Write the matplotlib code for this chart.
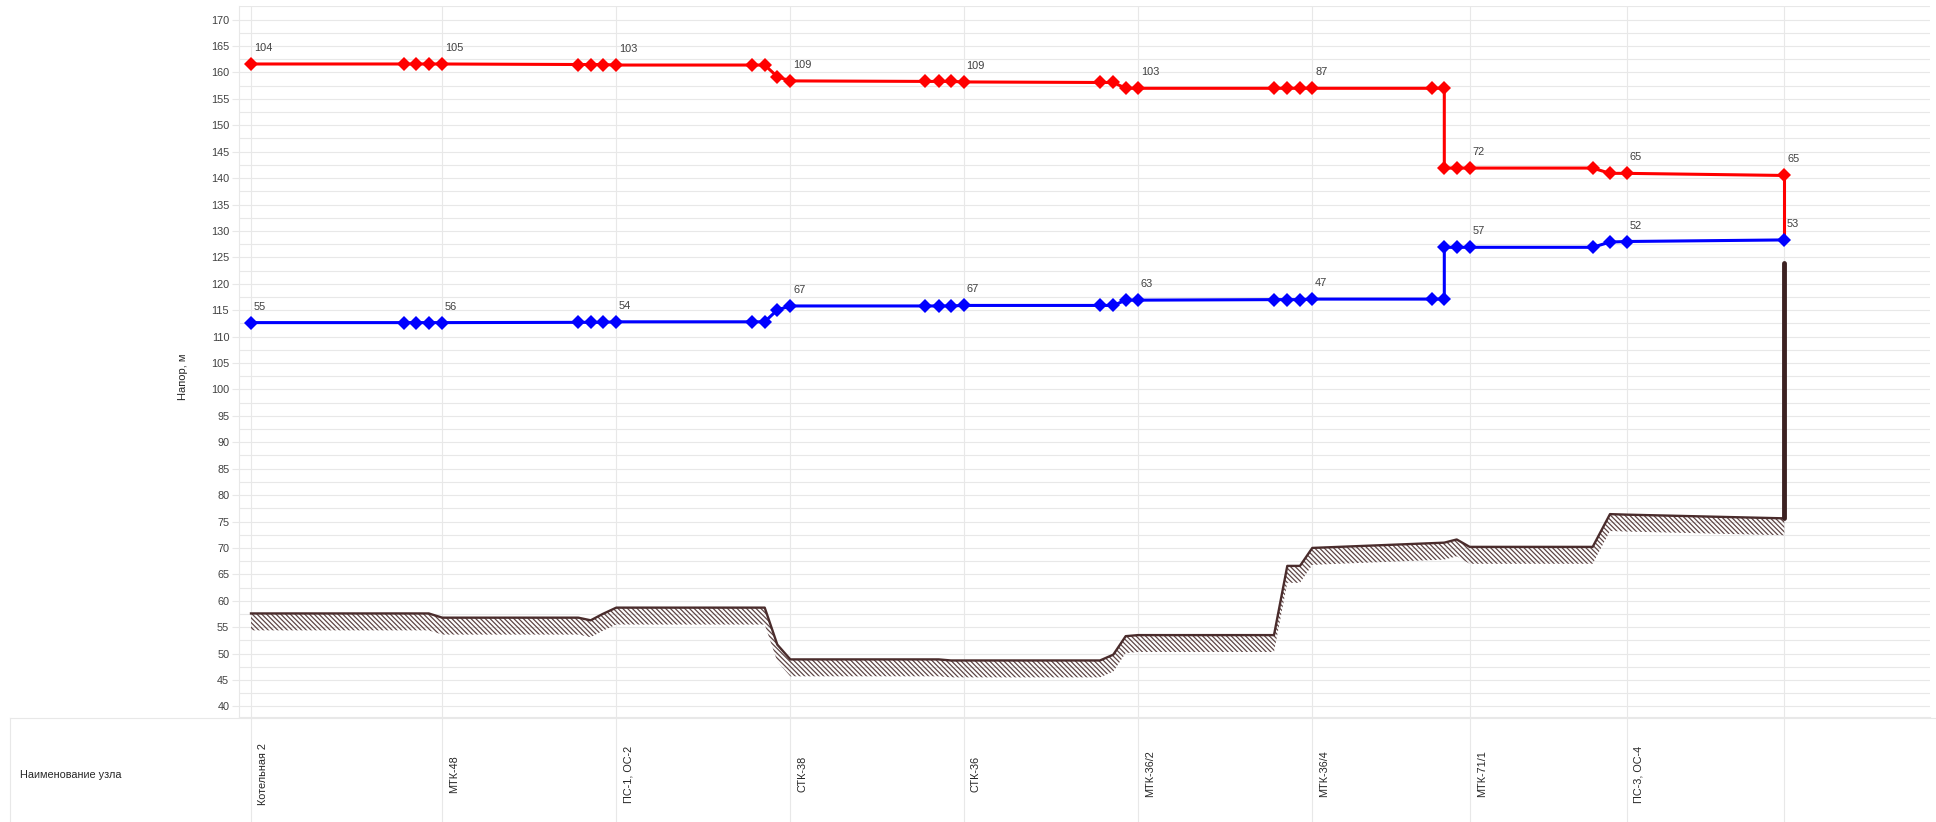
import numpy as np
import matplotlib
matplotlib.use("Agg")
import matplotlib.pyplot as plt
from matplotlib.ticker import MultipleLocator

plt.rcParams['font.family'] = ['Liberation Sans', 'DejaVu Sans']
plt.rcParams['hatch.linewidth'] = 0.9

# --- data (distance along the route, nodes in order) ---
dist = [0,
        153, 165.3, 177.7, 191.3,
        327.3, 339.7, 351.7, 365.3,
        501.3, 513.7, 526.3, 539.3,
        674, 687.7, 700, 712.7,
        849, 862.3, 874.7, 887,
        1023, 1036.3, 1049, 1061.3,
        1180.7, 1193.3, 1193.3, 1205.7, 1218.7,
        1341.7, 1359, 1375.7,
        1533.3]

supply_head = [161.6,
               161.6, 161.6, 161.6, 161.6,
               161.5, 161.5, 161.5, 161.4,
               161.4, 161.4, 159.2, 158.4,
               158.3, 158.3, 158.3, 158.2,
               158.1, 158.1, 157.0, 157.0,
               157.0, 157.0, 157.0, 157.0,
               157.0, 157.0, 141.9, 141.9, 141.9,
               141.9, 140.9, 140.9,
               140.5]

return_head = [112.65,
               112.65, 112.65, 112.65, 112.65,
               112.7, 112.7, 112.7, 112.8,
               112.8, 112.8, 115.05, 115.8,
               115.8, 115.8, 115.8, 115.9,
               115.9, 115.9, 116.9, 116.9,
               117.0, 117.0, 117.0, 117.1,
               117.1, 117.1, 126.9, 126.9, 126.9,
               126.9, 127.9, 128.0,
               128.3]

ground = [57.6,
          57.6, 57.6, 57.6, 56.8,
          56.8, 56.3, 57.5, 58.7,
          58.7, 58.7, 51.7, 48.9,
          48.9, 48.9, 48.7, 48.7,
          48.7, 49.8, 53.3, 53.5,
          53.5, 66.6, 66.6, 70.0,
          70.9, 71.0, 71.0, 71.6, 70.2,
          70.2, 76.4, 76.3,
          75.6]
riser_top = 124.0

# nodes that carry names / value labels
label_nodes = [0, 4, 8, 12, 16, 20, 24, 29, 32, 33]
node_names = ['Котельная 2', 'МТК-48', 'ПС-1, ОС-2', 'СТК-38', 'СТК-36',
              'МТК-36/2', 'МТК-36/4', 'МТК-71/1', 'ПС-3, ОС-4', '']
supply_labels = [104, 105, 103, 109, 109, 103, 87, 72, 65, 65]
return_labels = [55, 56, 54, 67, 67, 63, 47, 57, 52, 53]

W, H = 1936, 822
fig = plt.figure(figsize=(W / 100, H / 100), dpi=100)

ax_top, ax_bot, ax_left, ax_right = 6.4, 717.0, 239, 1930
ax = fig.add_axes([ax_left / W, 1 - ax_bot / H, (ax_right - ax_left) / W, (ax_bot - ax_top) / H])

x = np.array(dist)
gnd = np.array(ground)
grid_c = '#e8e8e8'
text_c = '#404040'

# ground profile with hatched band
ax.fill_between(x, gnd - 3.2, gnd, facecolor='none', edgecolor='#5e4646',
                hatch='\\\\\\\\\\\\\\', linewidth=0, zorder=2)
ax.plot(x, gnd, color='#4a2c2c', lw=1.7, zorder=3)
ax.plot([x[-1], x[-1]], [gnd[-1], riser_top], color='#3d2222', lw=3.5,
        solid_capstyle='round', zorder=3)

# piezometric lines
ax.plot([x[-1], x[-1]], [supply_head[-1], return_head[-1]], color='red', lw=2.2, zorder=4)
ax.plot(x, supply_head, color='red', lw=2.2, marker='D', ms=7.3, mew=0, zorder=5)
ax.plot(x, return_head, color='blue', lw=2.2, marker='D', ms=7.3, mew=0, zorder=5)

for i, n in enumerate(label_nodes):
    ax.annotate(str(supply_labels[i]), (x[n], supply_head[n]), xytext=(2, 11.5),
                textcoords='offset points', ha='left', va='center', fontsize=7.9, color=text_c)
    ax.annotate(str(return_labels[i]), (x[n], return_head[n]), xytext=(2, 11.5),
                textcoords='offset points', ha='left', va='center', fontsize=7.9, color=text_c)

ax.set_xlim(ax_left - 251, ax_right - 251)
ax.set_ylim(38, 172.5)
ax.yaxis.set_major_locator(MultipleLocator(5))
ax.yaxis.set_minor_locator(MultipleLocator(2.5))
ax.set_yticks(np.arange(40, 171, 5))
ax.set_xticks([x[n] for n in label_nodes])
ax.set_xticklabels([])
ax.tick_params(axis='x', length=0)
ax.tick_params(axis='y', which='major', length=5, color=grid_c, labelsize=7.8,
               labelcolor=text_c, pad=2)
ax.tick_params(axis='y', which='minor', length=0)
ax.grid(True, which='both', axis='y', color=grid_c, lw=0.8)
ax.grid(True, which='major', axis='x', color=grid_c, lw=0.8)
ax.set_axisbelow(True)
for s in ['top', 'right']:
    ax.spines[s].set_visible(False)
for s in ['left', 'bottom']:
    ax.spines[s].set_color(grid_c)
    ax.spines[s].set_linewidth(0.8)

fig.text(183 / W, 1 - 377 / H, 'Напор, м', rotation=90, ha='center', va='center',
         fontsize=8, color='#262626')

# node name table below the chart
tab = fig.add_axes([0, 0, 1, (H - ax_bot) / H])
tab.set_xlim(-251, W - 251)
tab.set_ylim(0, H - ax_bot)
tab.axis('off')
tab.plot([10 - 251, W - 251], [H - ax_bot - 1, H - ax_bot - 1], color=grid_c, lw=0.8)
tab.plot([10 - 251, 10 - 251], [0, H - ax_bot - 1], color=grid_c, lw=0.8)
for i, n in enumerate(label_nodes):
    tab.plot([x[n], x[n]], [0, H - ax_bot], color=grid_c, lw=0.8)
    if node_names[i]:
        tab.text(x[n] + 12, H - 774, node_names[i], rotation=90, ha='center', va='center',
                 fontsize=7.8, color='#262626')
tab.text(20 - 251, H - 775, 'Наименование узла', ha='left', va='center',
         fontsize=7.8, color='#262626')

fig.savefig('out.png', dpi=100)
